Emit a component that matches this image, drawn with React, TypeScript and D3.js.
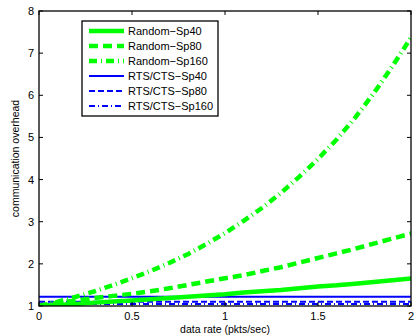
import React from "react";
import * as d3 from "d3";

// Data rate samples (pkts/sec)
const rates = [0, 0.1, 0.2, 0.3, 0.4, 0.5, 0.6, 0.7, 0.8, 0.9, 1.0, 1.1, 1.2, 1.3, 1.4, 1.5, 1.6, 1.7, 1.8, 1.9, 2.0];

// Communication overhead per scheme
const randomSp40 = [1.0, 1.025, 1.05, 1.08, 1.105, 1.13, 1.16, 1.19, 1.22, 1.25, 1.28, 1.32, 1.35, 1.38, 1.42, 1.46, 1.49, 1.53, 1.57, 1.61, 1.65];
const randomSp80 = [1.0, 1.07, 1.13, 1.19, 1.24, 1.29, 1.35, 1.42, 1.5, 1.58, 1.66, 1.73, 1.83, 1.92, 2.03, 2.14, 2.25, 2.36, 2.48, 2.6, 2.72];
const randomSp160 = [1.0, 1.1, 1.22, 1.35, 1.5, 1.66, 1.83, 2.02, 2.23, 2.47, 2.73, 3.02, 3.33, 3.68, 4.07, 4.49, 4.95, 5.47, 6.05, 6.69, 7.37];
const rtsSp40 = [1.22, 1.22, 1.22, 1.22, 1.22, 1.22, 1.22, 1.22, 1.22, 1.22, 1.22, 1.22, 1.22, 1.22, 1.22, 1.22, 1.22, 1.22, 1.22, 1.22, 1.22];
const rtsSp80 = [1.1, 1.1, 1.1, 1.1, 1.1, 1.1, 1.1, 1.1, 1.1, 1.1, 1.1, 1.1, 1.1, 1.1, 1.1, 1.1, 1.1, 1.1, 1.1, 1.1, 1.1];
const rtsSp160 = [1.05, 1.05, 1.05, 1.05, 1.05, 1.05, 1.05, 1.05, 1.05, 1.05, 1.05, 1.05, 1.05, 1.05, 1.05, 1.05, 1.05, 1.05, 1.05, 1.05, 1.05];

const seriesNames = ["Random\u2212Sp40", "Random\u2212Sp80", "Random\u2212Sp160", "RTS/CTS\u2212Sp40", "RTS/CTS\u2212Sp80", "RTS/CTS\u2212Sp160"];
const seriesValues = [randomSp40, randomSp80, randomSp160, rtsSp40, rtsSp80, rtsSp160];

const xTicks = [0, 0.5, 1, 1.5, 2];
const xTickLabels = ["0", "0.5", "1", "1.5", "2"];
const yTicks = [1, 2, 3, 4, 5, 6, 7, 8];

const GREEN = "#00ff00";
const BLUE = "#0000ff";
const styles = [
  { color: GREEN, width: 4.5, dash: "" },
  { color: GREEN, width: 4.5, dash: "9,5" },
  { color: GREEN, width: 4.5, dash: "8,4,1,4" },
  { color: BLUE, width: 2, dash: "" },
  { color: BLUE, width: 2, dash: "6,3" },
  { color: BLUE, width: 2, dash: "6,3,1,3" },
];

const W = 417;
const H = 336;
const left = 39;
const right = 411;
const top = 11;
const bottom = 306;
const FONT = "'Liberation Sans', Arial, Helvetica, sans-serif";

export default function App() {
  const x = d3.scaleLinear().domain([0, 2]).range([left, right]);
  const y = d3.scaleLinear().domain([1, 8]).range([bottom, top]);
  const line = d3
    .line<number>()
    .x((_, i) => x(rates[i]))
    .y((d) => y(d));

  const tickLen = 4;
  const legend = { x: 82, y: 21, w: 136, h: 95, row: 15 };

  return (
    <svg
      width={W}
      height={H}
      style={{ position: "absolute", left: 0, top: 0, background: "#fff" }}
      fontFamily={FONT}
    >
      <defs>
        <clipPath id="plot-clip">
          <rect x={left} y={top} width={right - left} height={bottom - top} />
        </clipPath>
      </defs>

      {/* series, drawn bottom-up so the green curves sit above the blue */}
      <g clipPath="url(#plot-clip)">
        {[3, 4, 5, 0, 1, 2].map((k) => (
          <path
            key={k}
            d={line(seriesValues[k]) || ""}
            fill="none"
            stroke={styles[k].color}
            strokeWidth={styles[k].width}
            strokeDasharray={styles[k].dash || undefined}
          />
        ))}
      </g>

      {/* axes box */}
      <rect x={left} y={top} width={right - left} height={bottom - top} fill="none" stroke="#000" strokeWidth={1.3} />

      {/* x ticks, inward on bottom and top */}
      {xTicks.map((t, i) => (
        <g key={"x" + i}>
          <line x1={x(t)} x2={x(t)} y1={bottom} y2={bottom - tickLen} stroke="#000" />
          <line x1={x(t)} x2={x(t)} y1={top} y2={top + tickLen} stroke="#000" />
          <text x={x(t)} y={320} fontSize={11} textAnchor="middle" fill="#000">
            {xTickLabels[i]}
          </text>
        </g>
      ))}

      {/* y ticks, inward on left and right */}
      {yTicks.map((t) => (
        <g key={"y" + t}>
          <line x1={left} x2={left + tickLen} y1={y(t)} y2={y(t)} stroke="#000" />
          <line x1={right} x2={right - tickLen} y1={y(t)} y2={y(t)} stroke="#000" />
          <text x={34} y={y(t) + 4} fontSize={11} textAnchor="end" fill="#000">
            {t}
          </text>
        </g>
      ))}

      {/* axis titles */}
      <text x={(left + right) / 2} y={333} fontSize={10.5} textAnchor="middle" fill="#000">
        data rate (pkts/sec)
      </text>
      <text
        transform={`translate(19,${(top + bottom) / 2}) rotate(-90)`}
        fontSize={10.5}
        textAnchor="middle"
        fill="#000"
      >
        communication overhead
      </text>

      {/* legend */}
      <rect x={legend.x} y={legend.y} width={legend.w} height={legend.h} fill="#fff" stroke="#000" strokeWidth={1.3} />
      {seriesNames.map((name, k) => {
        const cy = legend.y + 10 + k * legend.row;
        return (
          <g key={name}>
            <line
              x1={89}
              x2={124}
              y1={cy}
              y2={cy}
              stroke={styles[k].color}
              strokeWidth={styles[k].width}
              strokeDasharray={styles[k].dash || undefined}
            />
            <text x={128} y={cy + 4} fontSize={11} fill="#000">
              {name}
            </text>
          </g>
        );
      })}
    </svg>
  );
}
